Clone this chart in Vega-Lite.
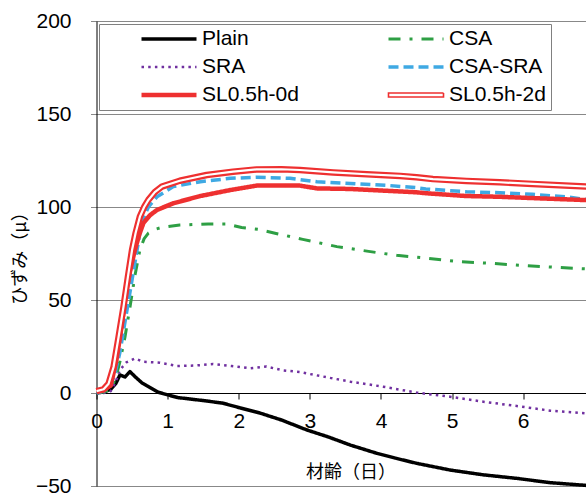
{
  "$schema": "https://vega.github.io/schema/vega-lite/v6.json",
  "width": 490,
  "height": 465,
  "autosize": {"type": "none"},
  "padding": {"left": 96.5, "top": 21, "right": 0, "bottom": 7},
  "background": "white",
  "config": {"view": {"stroke": null}, "font": "Liberation Sans"},
  "datasets": {
    "curves": [
      {"series": "Plain", "d": 0, "v": 0}, {"series": "Plain", "d": 0.1, "v": 0.5}, {"series": "Plain", "d": 0.2, "v": 2}, {"series": "Plain", "d": 0.27, "v": 5}, {"series": "Plain", "d": 0.33, "v": 9.7}, {"series": "Plain", "d": 0.4, "v": 8.6}, {"series": "Plain", "d": 0.47, "v": 11.5}, {"series": "Plain", "d": 0.55, "v": 8.5}, {"series": "Plain", "d": 0.64, "v": 5.4}, {"series": "Plain", "d": 0.75, "v": 3}, {"series": "Plain", "d": 0.87, "v": 0.4}, {"series": "Plain", "d": 1.0, "v": -1}, {"series": "Plain", "d": 1.15, "v": -2.5}, {"series": "Plain", "d": 1.31, "v": -3.2}, {"series": "Plain", "d": 1.55, "v": -4.3}, {"series": "Plain", "d": 1.78, "v": -5.5}, {"series": "Plain", "d": 2.02, "v": -8}, {"series": "Plain", "d": 2.3, "v": -10.8}, {"series": "Plain", "d": 2.6, "v": -14.5}, {"series": "Plain", "d": 2.96, "v": -19.9}, {"series": "Plain", "d": 3.25, "v": -23.5}, {"series": "Plain", "d": 3.57, "v": -28}, {"series": "Plain", "d": 3.94, "v": -32.4}, {"series": "Plain", "d": 4.2, "v": -35}, {"series": "Plain", "d": 4.5, "v": -37.8}, {"series": "Plain", "d": 4.97, "v": -41.4}, {"series": "Plain", "d": 5.44, "v": -44}, {"series": "Plain", "d": 5.91, "v": -45.9}, {"series": "Plain", "d": 6.38, "v": -48.2}, {"series": "Plain", "d": 6.89, "v": -49.7},
      {"series": "SRA", "d": 0, "v": 0}, {"series": "SRA", "d": 0.1, "v": 0}, {"series": "SRA", "d": 0.2, "v": 1}, {"series": "SRA", "d": 0.27, "v": 6}, {"series": "SRA", "d": 0.33, "v": 12.4}, {"series": "SRA", "d": 0.42, "v": 16.5}, {"series": "SRA", "d": 0.54, "v": 18.6}, {"series": "SRA", "d": 0.65, "v": 16.8}, {"series": "SRA", "d": 0.89, "v": 16.3}, {"series": "SRA", "d": 1.13, "v": 14.5}, {"series": "SRA", "d": 1.4, "v": 14.8}, {"series": "SRA", "d": 1.64, "v": 15.6}, {"series": "SRA", "d": 1.9, "v": 14.5}, {"series": "SRA", "d": 2.16, "v": 13.3}, {"series": "SRA", "d": 2.39, "v": 14.2}, {"series": "SRA", "d": 2.62, "v": 12.2}, {"series": "SRA", "d": 2.86, "v": 11.3}, {"series": "SRA", "d": 3.0, "v": 10.2}, {"series": "SRA", "d": 3.3, "v": 8}, {"series": "SRA", "d": 3.57, "v": 6.1}, {"series": "SRA", "d": 4.03, "v": 3.4}, {"series": "SRA", "d": 4.5, "v": 0.2}, {"series": "SRA", "d": 4.97, "v": -2}, {"series": "SRA", "d": 5.44, "v": -4.7}, {"series": "SRA", "d": 5.91, "v": -7}, {"series": "SRA", "d": 6.38, "v": -9.5}, {"series": "SRA", "d": 6.89, "v": -11},
      {"series": "CSA", "d": 0, "v": 0}, {"series": "CSA", "d": 0.1, "v": 0.5}, {"series": "CSA", "d": 0.2, "v": 2}, {"series": "CSA", "d": 0.27, "v": 8}, {"series": "CSA", "d": 0.33, "v": 17}, {"series": "CSA", "d": 0.4, "v": 30}, {"series": "CSA", "d": 0.47, "v": 46}, {"series": "CSA", "d": 0.54, "v": 63}, {"series": "CSA", "d": 0.61, "v": 77}, {"series": "CSA", "d": 0.67, "v": 83}, {"series": "CSA", "d": 0.73, "v": 86}, {"series": "CSA", "d": 0.82, "v": 88}, {"series": "CSA", "d": 0.92, "v": 89}, {"series": "CSA", "d": 1.17, "v": 90.3}, {"series": "CSA", "d": 1.57, "v": 90.9}, {"series": "CSA", "d": 1.83, "v": 90.9}, {"series": "CSA", "d": 2.04, "v": 89}, {"series": "CSA", "d": 2.27, "v": 88}, {"series": "CSA", "d": 2.51, "v": 85.9}, {"series": "CSA", "d": 2.9, "v": 82.6}, {"series": "CSA", "d": 3.38, "v": 78.7}, {"series": "CSA", "d": 3.85, "v": 76}, {"series": "CSA", "d": 4.22, "v": 74}, {"series": "CSA", "d": 4.66, "v": 72.4}, {"series": "CSA", "d": 5.1, "v": 70.6}, {"series": "CSA", "d": 5.55, "v": 69.7}, {"series": "CSA", "d": 5.99, "v": 68.6}, {"series": "CSA", "d": 6.44, "v": 67.6}, {"series": "CSA", "d": 6.89, "v": 66.7},
      {"series": "CSA-SRA", "d": 0, "v": 0}, {"series": "CSA-SRA", "d": 0.1, "v": 1}, {"series": "CSA-SRA", "d": 0.2, "v": 4}, {"series": "CSA-SRA", "d": 0.27, "v": 12}, {"series": "CSA-SRA", "d": 0.33, "v": 22}, {"series": "CSA-SRA", "d": 0.4, "v": 38}, {"series": "CSA-SRA", "d": 0.47, "v": 54}, {"series": "CSA-SRA", "d": 0.54, "v": 70}, {"series": "CSA-SRA", "d": 0.61, "v": 86}, {"series": "CSA-SRA", "d": 0.67, "v": 95}, {"series": "CSA-SRA", "d": 0.73, "v": 100}, {"series": "CSA-SRA", "d": 0.85, "v": 105.5}, {"series": "CSA-SRA", "d": 1.08, "v": 111}, {"series": "CSA-SRA", "d": 1.46, "v": 113.6}, {"series": "CSA-SRA", "d": 1.88, "v": 115.4}, {"series": "CSA-SRA", "d": 2.25, "v": 116}, {"series": "CSA-SRA", "d": 2.72, "v": 115.4}, {"series": "CSA-SRA", "d": 3.1, "v": 113.6}, {"series": "CSA-SRA", "d": 3.57, "v": 112.7}, {"series": "CSA-SRA", "d": 4.13, "v": 111.5}, {"series": "CSA-SRA", "d": 4.5, "v": 110.4}, {"series": "CSA-SRA", "d": 4.63, "v": 109.7}, {"series": "CSA-SRA", "d": 5.2, "v": 108.2}, {"series": "CSA-SRA", "d": 5.67, "v": 107.7}, {"series": "CSA-SRA", "d": 6.13, "v": 106.8}, {"series": "CSA-SRA", "d": 6.6, "v": 105.5}, {"series": "CSA-SRA", "d": 6.89, "v": 104},
      {"series": "SL0.5h-0d", "d": 0, "v": 1}, {"series": "SL0.5h-0d", "d": 0.1, "v": 1.5}, {"series": "SL0.5h-0d", "d": 0.2, "v": 4}, {"series": "SL0.5h-0d", "d": 0.28, "v": 17.7}, {"series": "SL0.5h-0d", "d": 0.35, "v": 35}, {"series": "SL0.5h-0d", "d": 0.42, "v": 55.4}, {"series": "SL0.5h-0d", "d": 0.48, "v": 67}, {"series": "SL0.5h-0d", "d": 0.54, "v": 76.9}, {"series": "SL0.5h-0d", "d": 0.6, "v": 85}, {"series": "SL0.5h-0d", "d": 0.66, "v": 91.4}, {"series": "SL0.5h-0d", "d": 0.75, "v": 95.5}, {"series": "SL0.5h-0d", "d": 0.85, "v": 98.4}, {"series": "SL0.5h-0d", "d": 1.08, "v": 102}, {"series": "SL0.5h-0d", "d": 1.46, "v": 105.9}, {"series": "SL0.5h-0d", "d": 1.88, "v": 109.1}, {"series": "SL0.5h-0d", "d": 2.25, "v": 111.5}, {"series": "SL0.5h-0d", "d": 2.86, "v": 111.5}, {"series": "SL0.5h-0d", "d": 3.1, "v": 110}, {"series": "SL0.5h-0d", "d": 3.57, "v": 109.7}, {"series": "SL0.5h-0d", "d": 4.03, "v": 108.8}, {"series": "SL0.5h-0d", "d": 4.5, "v": 107.9}, {"series": "SL0.5h-0d", "d": 4.63, "v": 107.4}, {"series": "SL0.5h-0d", "d": 5.2, "v": 105.9}, {"series": "SL0.5h-0d", "d": 5.66, "v": 105.5}, {"series": "SL0.5h-0d", "d": 6.13, "v": 104.8}, {"series": "SL0.5h-0d", "d": 6.89, "v": 103.7},
      {"series": "SL0.5h-2d", "d": 0, "v": 1}, {"series": "SL0.5h-2d", "d": 0.1, "v": 2}, {"series": "SL0.5h-2d", "d": 0.17, "v": 5}, {"series": "SL0.5h-2d", "d": 0.24, "v": 14}, {"series": "SL0.5h-2d", "d": 0.31, "v": 30}, {"series": "SL0.5h-2d", "d": 0.38, "v": 46.4}, {"series": "SL0.5h-2d", "d": 0.44, "v": 62}, {"series": "SL0.5h-2d", "d": 0.5, "v": 76.9}, {"series": "SL0.5h-2d", "d": 0.55, "v": 86}, {"series": "SL0.5h-2d", "d": 0.61, "v": 94.8}, {"series": "SL0.5h-2d", "d": 0.67, "v": 100}, {"series": "SL0.5h-2d", "d": 0.73, "v": 103.8}, {"series": "SL0.5h-2d", "d": 0.82, "v": 108}, {"series": "SL0.5h-2d", "d": 0.92, "v": 111}, {"series": "SL0.5h-2d", "d": 1.17, "v": 114.1}, {"series": "SL0.5h-2d", "d": 1.55, "v": 117.2}, {"series": "SL0.5h-2d", "d": 1.92, "v": 119}, {"series": "SL0.5h-2d", "d": 2.25, "v": 120.2}, {"series": "SL0.5h-2d", "d": 2.6, "v": 120.3}, {"series": "SL0.5h-2d", "d": 2.86, "v": 119.9}, {"series": "SL0.5h-2d", "d": 3.33, "v": 118.6}, {"series": "SL0.5h-2d", "d": 3.8, "v": 117.6}, {"series": "SL0.5h-2d", "d": 4.27, "v": 116.7}, {"series": "SL0.5h-2d", "d": 4.5, "v": 116}, {"series": "SL0.5h-2d", "d": 4.73, "v": 115}, {"series": "SL0.5h-2d", "d": 5.2, "v": 114}, {"series": "SL0.5h-2d", "d": 5.67, "v": 113.3}, {"series": "SL0.5h-2d", "d": 6.13, "v": 112.4}, {"series": "SL0.5h-2d", "d": 6.89, "v": 111}
    ]
  },
  "data": {"name": "curves"},
  "layer": [
    {
      "mark": {"type": "line", "strokeJoin": "round"},
      "encoding": {
        "x": {
          "field": "d", "type": "quantitative",
          "scale": {"domain": [0, 6.89], "nice": false, "zero": false},
          "axis": {
            "values": [0, 1, 2, 3, 4, 5, 6],
            "format": "d",
            "offset": -93,
            "grid": false,
            "domainColor": "black",
            "domainWidth": 1,
            "tickColor": "black",
            "tickSize": 6,
            "labelFont": "Liberation Sans",
            "labelFontSize": 21,
            "labelColor": "black",
            "labelPadding": 11,
            "labelFlush": false,
            "labelOverlap": false,
            "title": "材齢（日）",
            "titleFont": "Noto Sans CJK JP",
            "titleFontSize": 18,
            "titleFontWeight": "normal",
            "titleColor": "black",
            "titleX": 254,
            "titleY": 79,
            "titleAlign": "center",
            "titleBaseline": "middle",
            "titleAngle": 0
          }
        },
        "y": {
          "field": "v", "type": "quantitative",
          "scale": {"domain": [-50, 200], "nice": false, "zero": false},
          "axis": {
            "values": [-50, 0, 50, 100, 150, 200],
            "grid": true,
            "gridColor": "#888888",
            "gridWidth": 1,
            "domainColor": "black",
            "tickColor": "#888888",
            "tickSize": 6,
            "labelFont": "Liberation Sans",
            "labelFontSize": 21,
            "labelColor": "black",
            "labelPadding": 19.5,
            "labelFlush": false,
            "labelOverlap": false,
            "title": "ひずみ（μ）",
            "titleFont": "Noto Sans CJK JP",
            "titleFontSize": 18,
            "titleFontWeight": "normal",
            "titleColor": "black",
            "titlePadding": 6
          }
        },
        "color": {
          "field": "series", "type": "nominal",
          "scale": {
            "domain": ["Plain", "CSA", "SRA", "CSA-SRA", "SL0.5h-0d", "SL0.5h-2d"],
            "range": ["#000000", "#2e9f44", "#7030a0", "#3fa9e3", "#ee3030", "#ee3030"]
          },
          "legend": {
            "orient": "none",
            "direction": "horizontal",
            "legendX": 2.5,
            "legendY": 3,
            "columns": 2,
            "title": "\u00a0",
            "titleOrient": "left",
            "titleFontSize": 8,
            "titlePadding": 35,
            "strokeColor": "#808080",
            "fillColor": "white",
            "padding": 5,
            "clipHeight": 20,
            "symbolType": "stroke",
            "symbolSize": 3025,
            "labelOffset": 3,
            "labelFont": "Liberation Sans",
            "labelFontSize": 21,
            "labelColor": "black",
            "labelLimit": 0,
            "labelExpr": "datum.label + '     '",
            "columnPadding": 87,
            "rowPadding": 7,
            "encode": {
              "symbols": {
                "update": {
                  "shape": {"signal": "datum.value === 'SL0.5h-2d' ? 'M-1,-0.075H1V0.075H-1Z' : 'stroke'"},
                  "fill": {"signal": "datum.value === 'SL0.5h-2d' ? 'white' : 'transparent'"}
                }
              }
            }
          }
        },
        "strokeDash": {
          "field": "series", "type": "nominal",
          "scale": {
            "domain": ["Plain", "CSA", "SRA", "CSA-SRA", "SL0.5h-0d", "SL0.5h-2d"],
            "range": [[1, 0], [12, 9, 3, 9], [2.5, 4.2], [10, 5], [1, 0], [1, 0]]
          }
        },
        "strokeWidth": {
          "field": "series", "type": "nominal",
          "scale": {
            "type": "ordinal",
            "domain": ["Plain", "CSA", "SRA", "CSA-SRA", "SL0.5h-0d", "SL0.5h-2d"],
            "range": [3.5, 3, 2.5, 3.5, 4.5, 1.6]
          }
        }
      }
    },
    {
      "transform": [{"filter": "datum.series === 'SL0.5h-2d'"}],
      "mark": {"type": "line", "color": "#ee3030", "strokeWidth": 6.5, "strokeJoin": "round"},
      "encoding": {
        "x": {"field": "d", "type": "quantitative"},
        "y": {"field": "v", "type": "quantitative"}
      }
    },
    {
      "transform": [{"filter": "datum.series === 'SL0.5h-2d'"}],
      "mark": {"type": "line", "color": "white", "strokeWidth": 2.2, "strokeJoin": "round"},
      "encoding": {
        "x": {"field": "d", "type": "quantitative"},
        "y": {"field": "v", "type": "quantitative"}
      }
    }
  ]
}
